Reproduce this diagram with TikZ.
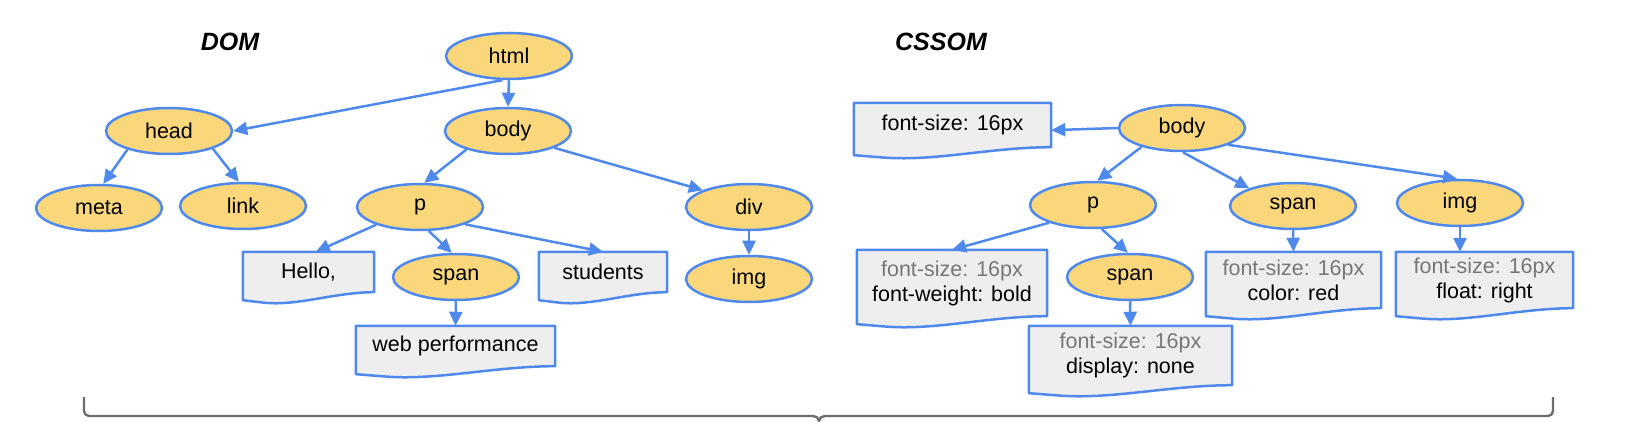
\documentclass[tikz,border=0pt]{standalone}
\usepackage{fontspec}
\setmainfont{Liberation Sans}
\usetikzlibrary{shapes.geometric,arrows.meta,calc}
\definecolor{gblue}{HTML}{4F89EB}
\definecolor{gyellow}{HTML}{F9D77A}
\definecolor{gbox}{HTML}{EEEEEE}
\definecolor{ggray}{HTML}{777777}
\definecolor{bracegray}{HTML}{6E6E6E}
\newcommand{\docshape}[1]{%
  \path let \p1=(#1.north west), \p2=(#1.south east), \n1={\x2-\x1} in
    [draw=gblue, line width=2.5pt, fill=gbox, line join=round]
    (\x1,\y1) -- (\x2,\y1) -- (\x2,\y2)
    .. controls (\x2-0.3*\n1,\y2) and (\x1+0.42*\n1,\y2-14pt) .. (\x1+0.16*\n1,\y2-10.5pt)
    .. controls (\x1+0.08*\n1,\y2-9.5pt) .. (\x1,\y2-8pt) -- cycle;%
}
\tikzset{
  elem/.style={ellipse, draw=gblue, line width=2.5pt, fill=gyellow, minimum width=126pt, minimum height=46pt, inner sep=0pt, font=\fontsize{21.5}{25}\selectfont},
  docbox/.style={rectangle, inner sep=0pt, align=center, font=\fontsize{21.5}{25}\selectfont},
  arr/.style={draw=gblue, line width=2.5pt, -{Triangle[length=14pt,width=13pt]}},
  title/.style={font=\fontsize{25}{30}\selectfont\bfseries\itshape},
  brace/.style={draw=bracegray, line width=2.4pt, line join=round}
}
\begin{document}
\begin{tikzpicture}[x=1pt,y=-1pt]
\useasboundingbox (0,0) rectangle (1634,422);
% titles
\node[title] (domtitle) at (230,42) {DOM};
\node[title] (cssomtitle) at (941,42) {CSSOM};
% DOM
\node[elem] (html) at (509,56) {html};
\node[elem] (head) at (169,131) {head};
\node[elem] (body) at (508,131) {body};
\node[elem] (meta) at (99,208) {meta};
\node[elem] (link) at (243,206) {link};
\node[elem] (p) at (420,207) {p};
\node[elem] (div) at (749,207) {div};
\node[elem] (span) at (456,277) {span};
\node[elem] (img) at (749,279) {img};
\node[docbox, minimum width=131pt, minimum height=40pt] (hello) at (308.5,272) {};
\docshape{hello}
\node at (hello.center) [font=\fontsize{21.5}{25}\selectfont] {Hello,};
\node[docbox, minimum width=128pt, minimum height=40pt] (students) at (603,272) {};
\docshape{students}
\node at (students.center) [font=\fontsize{21.5}{25}\selectfont] {students};
\node[docbox, minimum width=199pt, minimum height=40pt] (web) at (455.5,346) {};
\docshape{web}
\node at (web.center) [font=\fontsize{21.5}{25}\selectfont] {web performance};
% DOM arrows
\draw[arr] (html.255) -- (head.east);
\draw[arr] (html.south) -- (body.north);
\draw[arr] (head.204) -- (meta.80);
\draw[arr] (head.338) -- (link.100);
\draw[arr] (body.204) -- (p.80);
\draw[arr] (body.340) -- (div.160);
\draw[arr] (p.202) -- (hello.70);
\draw[arr] (p.290) -- (span.100);
\draw[arr] (p.339) -- (students.north);
\draw[arr] (div.south) -- (img.north);
\draw[arr] (span.south) -- (web.north);
% CSSOM
\node[elem] (cbody) at (1182,128) {body};
\node[elem] (cp) at (1093,205) {p};
\node[elem] (cspan) at (1293,206) {span};
\node[elem] (cimg) at (1460,203) {img};
\node[elem] (cspanb) at (1130,277) {span};
\node[docbox, minimum width=197pt, minimum height=44pt] (fs) at (952.5,125) {};
\docshape{fs}
\node at (fs.center) [font=\fontsize{21.5}{25}\selectfont] {font-size: 16px};
\node[docbox, minimum width=190pt, minimum height=66pt] (pbox) at (952,283) {};
\docshape{pbox}
\node[docbox] at (pbox.center) {\textcolor{ggray}{font-size: 16px}\\font-weight: bold};
\node[docbox, minimum width=203pt, minimum height=59pt] (disp) at (1130.5,355.5) {};
\docshape{disp}
\node[docbox] at (disp.center) {\textcolor{ggray}{font-size: 16px}\\display: none};
\node[docbox, minimum width=175pt, minimum height=56pt] (colorbox) at (1293.5,280) {};
\docshape{colorbox}
\node[docbox] at (colorbox.center) {\textcolor{ggray}{font-size: 16px}\\color: red};
\node[docbox, minimum width=177pt, minimum height=56pt] (floatbox) at (1484.5,280) {};
\docshape{floatbox}
\node[docbox] at (floatbox.center) {\textcolor{ggray}{font-size: 16px}\\float: right};
% CSSOM arrows
\draw[arr] (cbody.west) -- (fs.-3);
\draw[arr] (cbody.205) -- (cp.80);
\draw[arr] (cbody.272) -- (cspan.158);
\draw[arr] (cbody.340) -- (cimg.97);
\draw[arr] (cp.202) -- (pbox.north);
\draw[arr] (cp.290) -- (cspanb.95);
\draw[arr] (cspan.south) -- (colorbox.north);
\draw[arr] (cimg.south) -- (cimg.south |- floatbox.north);
\draw[arr] (cspanb.south) -- (disp.north);
% brace
\coordinate (bl) at (84,397);
\coordinate (bm) at (819,422);
\coordinate (br) at (1553,397);
\draw[brace] (bl) -- (bl |- 0,411) to[out=-90,in=180] (89,416) -- (813,416)
  to[out=0,in=90] (bm |- 0,421) to[out=90,in=180] (825,416) -- (1548,416)
  to[out=0,in=-90] (br |- 0,411) -- (br);
\end{tikzpicture}
\end{document}
